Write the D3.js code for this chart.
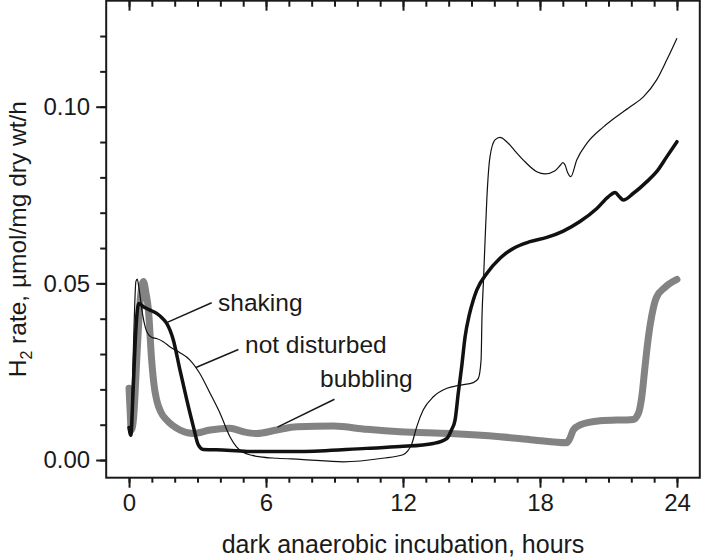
<!DOCTYPE html>
<html>
<head>
<meta charset="utf-8">
<script src="https://cdn.jsdelivr.net/npm/d3@7"></script>
<style>
  html, body { margin: 0; padding: 0; background: #fff; }
  svg { display: block; }
  text { font-family: "Liberation Sans", Arial, Helvetica, sans-serif; fill: #1a1a1a; }
</style>
</head>
<body>
<svg id="chart" width="701" height="559"></svg>
<script>
// ---- data (hours, H2 rate) ----
const notDisturbedHours = [0,0.06,0.14,0.22,0.3,0.36,0.45,0.6,0.8,1.0,1.2,1.5,1.8,2.2,2.67,3.1,3.55,3.99,4.42,4.7,4.94,5.4,5.74,6.5,7.5,9.4,11.1,12.0,12.2,12.38,12.6,12.89,13.33,13.92,14.5,15.08,15.3,15.42,15.46,15.52,15.6,15.67,15.81,16.03,16.25,16.54,16.9,17.27,17.86,18.22,18.66,18.9,19.0,19.1,19.2,19.35,19.61,20.05,20.78,21.95,22.53,23.11,23.55,24.0];
const notDisturbedRate  = [0.0092,0.0068,0.02,0.038,0.0505,0.0512,0.048,0.041,0.036,0.0347,0.0344,0.0335,0.032,0.0305,0.0283,0.0245,0.0189,0.0132,0.0066,0.0038,0.0024,0.0013,0.0009,0.0005,0.0002,-0.0005,0.0005,0.0015,0.0025,0.0045,0.0094,0.0142,0.0179,0.0203,0.0212,0.0219,0.0231,0.0283,0.0406,0.05,0.063,0.0736,0.0858,0.0906,0.0913,0.0901,0.0875,0.0849,0.0816,0.081,0.0819,0.0835,0.0842,0.0835,0.0815,0.0802,0.0849,0.0896,0.0943,0.1,0.1028,0.1076,0.1132,0.1194];

const shakingHours = [0,0.08,0.18,0.3,0.42,0.63,0.9,1.21,1.45,1.65,1.94,2.23,2.53,2.82,3.04,3.25,4.28,5.3,7.5,10.4,11.87,13.33,13.92,14.12,14.28,14.42,14.57,14.72,14.9,15.08,15.23,15.67,16.25,16.83,17.56,18.3,19.02,19.75,20.49,20.99,21.29,21.48,21.65,22.09,22.68,23.11,23.55,24.0];
const shakingRate  = [0.0092,0.007,0.02,0.037,0.0443,0.0434,0.0425,0.0415,0.0402,0.0387,0.034,0.0255,0.017,0.0094,0.0042,0.003,0.0028,0.0024,0.0024,0.0033,0.0038,0.0047,0.0061,0.0085,0.0113,0.0189,0.0264,0.0349,0.041,0.0453,0.0481,0.0528,0.0571,0.0599,0.0618,0.063,0.0648,0.0675,0.0712,0.0745,0.0757,0.0745,0.0736,0.0755,0.0788,0.0816,0.0858,0.0901];

const bubblingHours = [0,0.04,0.1,0.2,0.35,0.5,0.63,0.75,0.85,0.99,1.1,1.21,1.4,1.65,2.23,2.82,3.55,4.42,5.01,5.59,6.47,7.35,8.95,10.41,11.87,14.06,16.25,17.71,19.17,19.3,19.46,19.75,20.63,22.09,22.31,22.46,22.6,22.75,22.9,23.1,23.5,24.0];
const bubblingRate  = [0.0203,0.015,0.0085,0.012,0.03,0.046,0.0505,0.047,0.0425,0.0283,0.021,0.017,0.0135,0.0113,0.0085,0.0075,0.0085,0.009,0.008,0.0075,0.0085,0.0094,0.0096,0.0087,0.008,0.0075,0.0066,0.0057,0.0049,0.006,0.0085,0.0099,0.0111,0.0115,0.0132,0.0179,0.0264,0.0349,0.041,0.046,0.049,0.0511];

const xMajorTicks = [0, 6, 12, 18, 24];
const xMinorTicks = d3.range(0, 25, 1);
const yMajorTicks = [0, 0.05, 0.10];
const yMinorTicks = d3.range(0, 0.125, 0.01);
const yTickLabels = ["0.00", "0.05", "0.10"];

const seriesNames = ["shaking", "not disturbed", "bubbling"];
// annotation: [text-left hour, leader start hour, leader end hour] and matching rates
const annotHours = [[3.9, 3.62, 1.65], [5.08, 4.79, 2.93], [8.37, 9.0, 6.5]];
const annotRates = [[0.0422, 0.0445, 0.0389], [0.0303, 0.0313, 0.0262], [0.0207, 0.0172, 0.0093]];

// ---- layout ----
const svg = d3.select("#chart");
const x = d3.scaleLinear().domain([-1, 25]).range([106.2, 699.8]);
const y = d3.scaleLinear().domain([-0.005, 0.13]).range([477.7, 0.7]);
const [xL, xR] = x.range();
const [yB, yT] = y.range();

const toPts = (hs, vs) => hs.map((h, i) => [h, vs[i]]);
const line = d3.line().x(d => x(d[0])).y(d => y(d[1])).curve(d3.curveMonotoneX);

const g = svg.append("g");

// series
g.append("path").datum(toPts(bubblingHours, bubblingRate))
  .attr("d", line).attr("fill", "none").attr("stroke", "#838383")
  .attr("stroke-width", 7).attr("stroke-linejoin", "round").attr("stroke-linecap", "round");
g.append("path").datum(toPts(notDisturbedHours, notDisturbedRate))
  .attr("d", line).attr("fill", "none").attr("stroke", "#111")
  .attr("stroke-width", 1.2).attr("stroke-linejoin", "round");
g.append("path").datum(toPts(shakingHours, shakingRate))
  .attr("d", line).attr("fill", "none").attr("stroke", "#111")
  .attr("stroke-width", 3.5).attr("stroke-linejoin", "round").attr("stroke-linecap", "round");

// axes
const axisStyle = sel => {
  sel.select(".domain").remove();
  sel.selectAll("line").attr("stroke", "#1a1a1a").attr("stroke-width", 2);
  sel.selectAll("text").style("font-family", '"Liberation Sans", Arial, sans-serif')
    .style("font-size", "24px").attr("fill", "#1a1a1a");
};

svg.append("g").attr("transform", `translate(0,${yB})`)
  .call(d3.axisBottom(x).tickValues(xMinorTicks).tickSize(5).tickFormat(""))
  .call(axisStyle);
svg.append("g").attr("transform", `translate(0,${yB})`)
  .call(d3.axisBottom(x).tickValues(xMajorTicks).tickSize(10).tickPadding(6).tickFormat(d3.format("d")))
  .call(axisStyle);
svg.append("g").attr("transform", `translate(0,${yT})`)
  .call(d3.axisTop(x).tickValues(xMinorTicks).tickSize(-6).tickFormat(""))
  .call(axisStyle);
svg.append("g").attr("transform", `translate(0,${yT})`)
  .call(d3.axisTop(x).tickValues(xMajorTicks).tickSize(-10).tickFormat(""))
  .call(axisStyle);
svg.append("g").attr("transform", `translate(${xL},0)`)
  .call(d3.axisLeft(y).tickValues(yMinorTicks).tickSize(6).tickFormat(""))
  .call(axisStyle);
svg.append("g").attr("transform", `translate(${xL},0)`)
  .call(d3.axisLeft(y).tickValues(yMajorTicks).tickSize(10).tickPadding(6)
    .tickFormat((d, i) => yTickLabels[i]))
  .call(axisStyle);

// frame
svg.append("rect").attr("x", xL).attr("y", yT).attr("width", xR - xL).attr("height", yB - yT)
  .attr("fill", "none").attr("stroke", "#1a1a1a").attr("stroke-width", 2);

// axis titles
svg.append("text").attr("x", (xL + xR) / 2).attr("y", 553).attr("text-anchor", "middle")
  .style("font-size", "25px").text("dark anaerobic incubation, hours");

const yt = svg.append("text").attr("transform", `translate(26,${(yB + yT) / 2}) rotate(-90)`)
  .attr("text-anchor", "middle").style("font-size", "24.5px");
yt.append("tspan").text("H");
yt.append("tspan").attr("dy", 6).style("font-size", "16px").text("2");
yt.append("tspan").attr("dy", -6).text(" rate, \u00b5mol/mg dry wt/h");

// annotations
seriesNames.forEach((name, i) => {
  const [th, lh1, lh2] = annotHours[i];
  const [tv, lv1, lv2] = annotRates[i];
  svg.append("line").attr("x1", x(lh1)).attr("y1", y(lv1)).attr("x2", x(lh2)).attr("y2", y(lv2))
    .attr("stroke", "#1a1a1a").attr("stroke-width", 1.5);
  svg.append("text").attr("x", x(th)).attr("y", y(tv)).style("font-size", "24.5px").text(name);
});
</script>
</body>
</html>
